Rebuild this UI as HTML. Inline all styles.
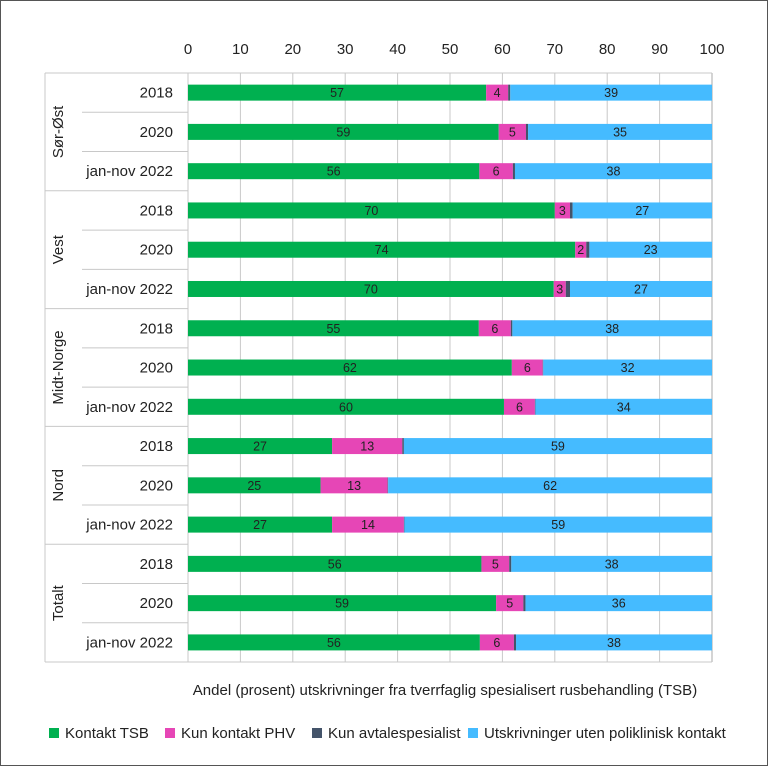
<!DOCTYPE html>
<html><head><meta charset="utf-8"><style>body{margin:0;background:#fff}svg{display:block}text{font-family:"Liberation Sans",sans-serif;fill:#222}</style></head><body>
<svg width="768" height="766" xmlns="http://www.w3.org/2000/svg">
<rect x="0.5" y="0.5" width="767" height="765" fill="#fff" stroke="#555"/>
<g id="grid" stroke="#c8c8c8" stroke-width="1"></g>
<g id="bars"></g>
<g id="labels"></g>
<text x="445" y="695" font-size="15" text-anchor="middle">Andel (prosent)  utskrivninger fra tverrfaglig spesialisert rusbehandling (TSB)</text>
<g font-size="15">
<rect x="49" y="728" width="10" height="10" fill="#00b050"/><text x="65" y="738">Kontakt TSB</text>
<rect x="165" y="728" width="10" height="10" fill="#e646b6"/><text x="181" y="738">Kun kontakt PHV</text>
<rect x="312" y="728" width="10" height="10" fill="#44546a"/><text x="328" y="738">Kun avtalespesialist</text>
<rect x="468" y="728" width="10" height="10" fill="#45bbff"/><text x="484" y="738">Utskrivninger uten poliklinisk kontakt</text>
</g>
<script>
(function(){
const ns="http://www.w3.org/2000/svg";
function el(p,t,a,txt){const e=document.createElementNS(ns,t);for(const k in a)e.setAttribute(k,a[k]);if(txt!==undefined)e.textContent=txt;p.appendChild(e);return e;}
const G=document.getElementById('grid'),B=document.getElementById('bars'),L=document.getElementById('labels');
const x0=188,x1=712,sx=(x1-x0)/100,y0=73,rh=39.27,bot=y0+15*rh;
for(let i=0;i<=10;i++){const x=x0+i*10*sx;el(G,'line',{x1:x,x2:x,y1:y0,y2:bot});el(L,'text',{x:x,y:54,'font-size':15,'text-anchor':'middle'},i*10);}
el(G,'line',{x1:x1,x2:x1,y1:y0,y2:bot,stroke:'#aaa'});
el(G,'line',{x1:45,x2:x1,y1:y0,y2:y0});
el(G,'line',{x1:45,x2:x1,y1:bot,y2:bot});
el(G,'line',{x1:45,x2:45,y1:y0,y2:bot});
const groups=['Sør-Øst','Vest','Midt-Norge','Nord','Totalt'],yrs=['2018','2020','jan-nov 2022'];
const d=[[56.9,4.2,.4,57,4,39],[59.3,5.2,.4,59,5,35],[55.6,6.4,.4,56,6,38],[70,2.9,.5,70,3,27],[73.9,2.1,.6,74,2,23],[69.8,2.3,.8,70,3,27],[55.5,6.1,.3,55,6,38],[61.8,5.9,.1,62,6,32],[60.3,5.9,.1,60,6,34],[27.5,13.4,.3,27,13,59],[25.3,12.8,.1,25,13,62],[27.5,13.7,.1,27,14,59],[56,5.3,.4,56,5,38],[58.8,5.2,.4,59,5,36],[55.7,6.5,.4,56,6,38]];
const cols=['#00b050','#e646b6','#44546a','#45bbff'];
d.forEach((r,i)=>{const yc=y0+rh*(i+0.5);const ry=y0+rh*i;
 if(i>0){el(G,'line',{x1:(i%3==0)?45:82,x2:x0,y1:ry,y2:ry});}
 el(L,'text',{x:173,y:yc+5,'font-size':15,'text-anchor':'end'},yrs[i%3]);
 const vals=[r[0],r[1],r[2],100-r[0]-r[1]-r[2]];let x=x0;
 vals.forEach((v,j)=>{el(B,'rect',{x:x,y:yc-8,width:v*sx,height:16,fill:cols[j]});
  const lab=j==0?r[3]:j==1?r[4]:j==3?r[5]:null;
  if(lab!==null)el(L,'text',{x:x+v*sx/2,y:yc+4.5,'font-size':12.5,'text-anchor':'middle'},lab);
  x+=v*sx;});
});
groups.forEach((g,k)=>{const yc=y0+rh*(3*k+1.5);el(L,'text',{x:0,y:0,'font-size':15,'text-anchor':'middle',transform:'translate(63,'+yc+') rotate(-90)'},g);});
})();
</script>
</svg>
</body></html>
